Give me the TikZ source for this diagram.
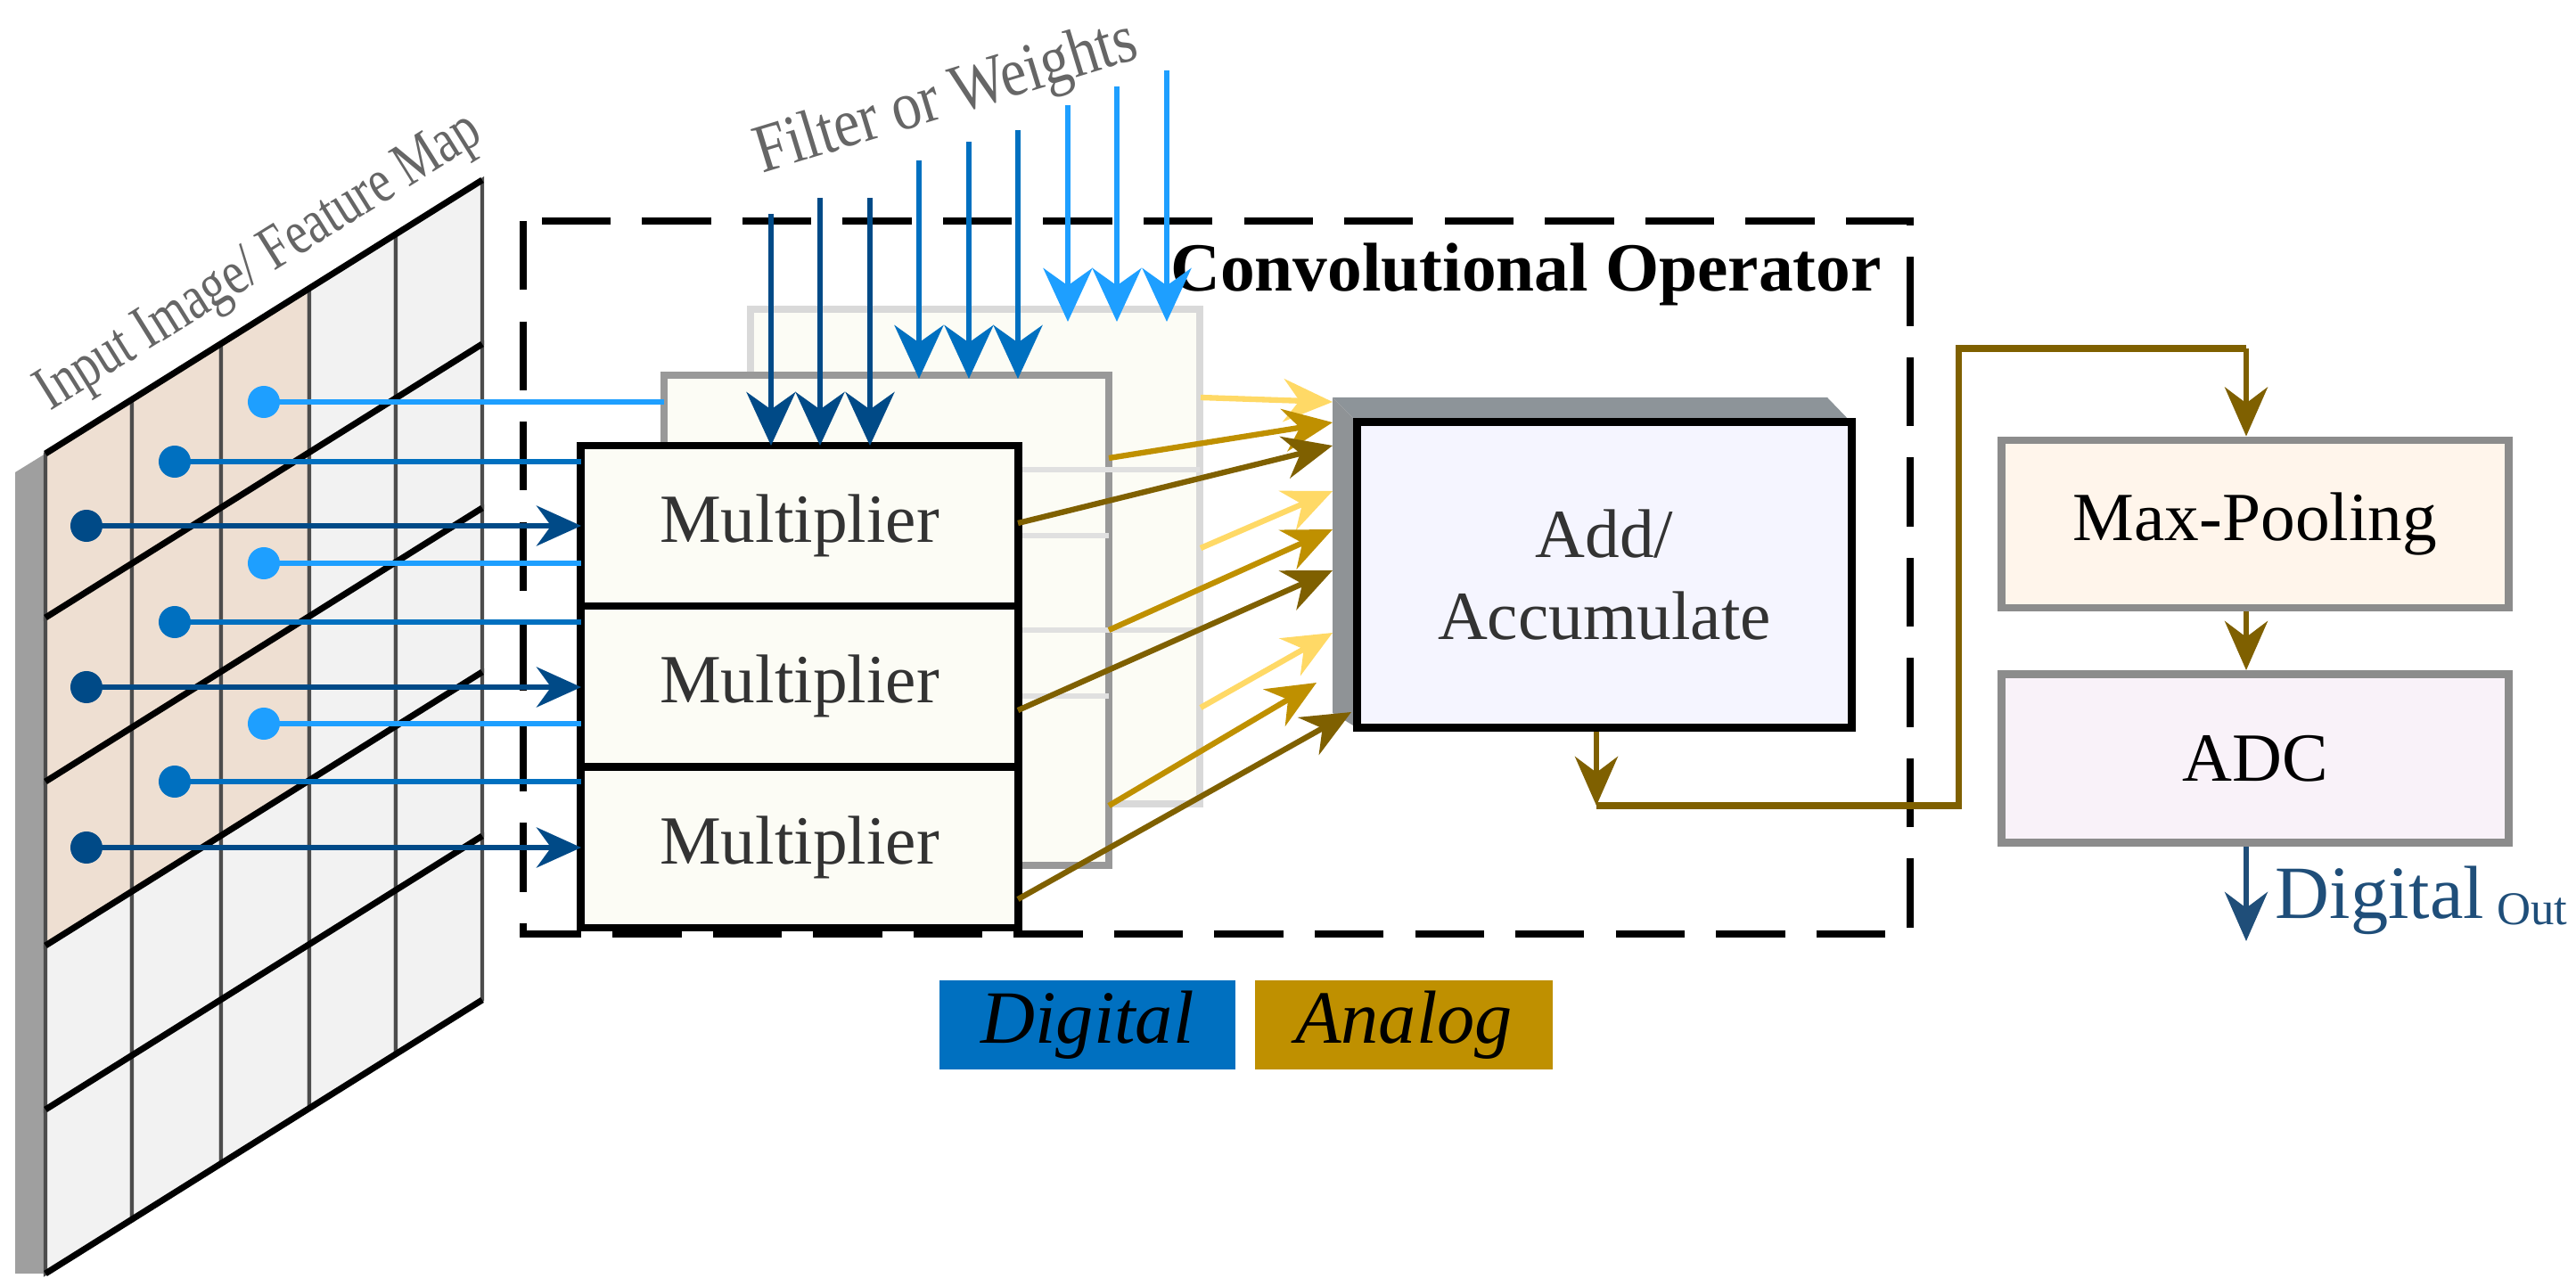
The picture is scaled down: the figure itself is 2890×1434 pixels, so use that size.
\documentclass[tikz,border=0pt]{standalone}
\usepackage{fontspec}
\setmainfont{Liberation Serif}
\usetikzlibrary{arrows.meta}
\definecolor{dA}{HTML}{004A87}
\definecolor{dB}{HTML}{0070C0}
\definecolor{dC}{HTML}{1E9FFF}
\definecolor{aA}{HTML}{FFD966}
\definecolor{aB}{HTML}{BF9000}
\definecolor{aC}{HTML}{7F6000}
\definecolor{tan}{HTML}{EEDFD2}
\definecolor{cellg}{HTML}{F2F2F2}
\definecolor{mfill}{HTML}{FCFCF5}
\definecolor{outb}{HTML}{1F4E79}
\tikzset{
  fnt/.style={font=\fontsize{22}{26}\selectfont},
  dig/.style={line width=1.7pt,-{Stealth[length=0.5cm,width=0.45cm]}},
  filt/.style={line width=1.7pt,-{Stealth[length=0.6cm,width=0.55cm]}},
  ana/.style={line width=1.8pt,-{Stealth[length=0.55cm,width=0.48cm]}},
  dot/.style={circle,inner sep=0pt,minimum size=0.36cm},
  mult/.style={draw=black,line width=2.5pt,fill=mfill,fnt,text=black!80},
}
\begin{document}
\begin{tikzpicture}[x=0.01cm,y=-0.01cm]
\useasboundingbox (0,0) rectangle (2890,1434);
% grid
\fill[gray!75] (17,530) -- (51,509) -- (51,1429) -- (17,1429) -- cycle;
\def\xs{{51,148,248,347,444,541}}
\foreach \i in {0,...,4}{
  \foreach \j in {0,...,4}{
    \pgfmathsetmacro{\xa}{\xs[\i]}
    \pgfmathsetmacro{\xb}{\xs[\i+1]}
    \pgfmathsetmacro{\ya}{509-0.627*(\xa-51)+184*\j}
    \pgfmathsetmacro{\yb}{509-0.627*(\xb-51)+184*\j}
    \pgfmathtruncatemacro{\sh}{(\i<3)&&(\j<3)}
    \ifnum\sh=1 \def\cc{tan}\else\def\cc{cellg}\fi
    \filldraw[fill=\cc,draw=black!70,line width=1.2pt] (\xa,\ya) -- (\xb,\yb) -- (\xb,\yb+184) -- (\xa,\ya+184) -- cycle;
  }
}
\foreach \j in {0,...,5}{
  \draw[line width=2pt] (51,509+184*\j) -- (541,202+184*\j);
}
\node[rotate=32,text=black!60,font=\fontsize{20}{24}\selectfont,xscale=0.78] (inlabel) at (292,296) {Input Image/ Feature Map};
% dashed box
\draw[line width=2.2pt,dash pattern=on 22pt off 10pt] (587,248) rectangle (2143,1048);
\node[font=\bfseries\fontsize{22}{26}\selectfont] (conv) at (1712,308) {Convolutional Operator};
% back layers
\draw[draw=black!15,line width=2.5pt,fill=mfill] (842,347) rectangle (1346,902);
\draw[draw=black!40,line width=2.5pt,fill=mfill] (745,421) rectangle (1244,971);
\draw[black!12,line width=1.5pt] (745,601) -- (1244,601) (745,781) -- (1244,781) (842,527)--(1346,527) (842,707)--(1346,707);
\node[mult,minimum width=4.9cm,minimum height=1.8cm] (m1) at (897,590) {Multiplier};
\node[mult,minimum width=4.9cm,minimum height=1.8cm] (m2) at (897,770) {Multiplier};
\node[mult,minimum width=4.9cm,minimum height=1.8cm] (m3) at (897,951) {Multiplier};
% dots & digital lines
\foreach \r/\ya/\yb/\yc in {1/590/518/451,2/771/698/632,3/951/877/812}{
  \node[dot,fill=dA] (pa\r) at (97,\ya) {};
  \node[dot,fill=dB] (pb\r) at (196,\yb) {};
  \node[dot,fill=dC] (pc\r) at (296,\yc) {};
  \coordinate (ea\r) at (652,\ya);
  \coordinate (eb\r) at (652,\yb);
  \draw[dig,dA] (pa\r.center) -- (ea\r);
  \draw[line width=1.7pt,dB] (pb\r.center) -- (eb\r);
}
\coordinate (ec1) at (745,451);
\coordinate (ec2) at (652,632);
\coordinate (ec3) at (652,812);
\foreach \r in {1,2,3}{\draw[line width=1.7pt,dC] (pc\r.center) -- (ec\r);}
% filter arrows
\node[rotate=17,text=black!60,font=\fontsize{22}{26}\selectfont,xscale=0.85] (flabel) at (1062,112) {Filter or Weights};
\foreach \x/\y in {865/240,920/222,976/222}{
  \coordinate (fa) at (\x,\y); \coordinate (fb) at (\x,500);
  \draw[filt,dA] (fa) -- (fb);}
\foreach \x/\y in {1031/180,1087/159,1142/146}{
  \coordinate (fa) at (\x,\y); \coordinate (fb) at (\x,425);
  \draw[filt,dB] (fa) -- (fb);}
\foreach \x/\y in {1198/118,1253/97,1309/79}{
  \coordinate (fa) at (\x,\y); \coordinate (fb) at (\x,361);
  \draw[filt,dC] (fa) -- (fb);}
% adder
\fill[gray!55!cyan!20!gray] (1495,446) -- (2050,446) -- (2077,474) -- (1523,474) -- cycle;
\fill[gray!80!cyan!30!gray] (1495,446) -- (1523,474) -- (1523,817) -- (1495,800) -- cycle;
\node[draw=black,line width=2.5pt,fill=blue!4,minimum width=5.54cm,minimum height=3.43cm,fnt,text=black!80,align=center] (add) at (1800,645) {Add/\\Accumulate};
% analog arrows
\foreach \c/\xa/\ya/\xb/\yb in {aA/1347/446/1495/451, aA/1347/615/1495/551, aA/1347/794/1495/710,
  aB/1244/514/1495/474, aB/1244/707/1495/594, aB/1244/904/1477/766,
  aC/1142/587/1495/500, aC/1142/797/1495/640, aC/1142/1009/1516/799}{
  \coordinate (sa) at (\xa,\ya); \coordinate (sb) at (\xb,\yb);
  \draw[ana,\c] (sa) -- (sb);}
% right side
\node[draw=black!45,line width=2.5pt,fill=orange!8,minimum width=5.69cm,minimum height=1.88cm,fnt] (mp) at (2530,588) {Max-Pooling};
\node[draw=black!45,line width=2.5pt,fill=violet!5,minimum width=5.69cm,minimum height=1.89cm,fnt] (adc) at (2530,851) {ADC};
\coordinate (c1) at (1791,904);
\coordinate (c2) at (2197,904);
\coordinate (c3) at (2197,391);
\coordinate (c4) at (2520,391);
\draw[line width=2pt,aC] (c1) -- (c2) -- (c3) -- (c4);
\draw[ana,aC] (c4) -- (c4 |- mp.north);
\draw[ana,aC] (add.south -| c1) -- (c1);
\draw[ana,aC] (mp.south -| c4) -- (adc.north -| c4);
\coordinate (dout) at (2520,1056);
\draw[ana,outb] (adc.south -| c4) -- (dout);
\node[text=outb,anchor=west,font=\fontsize{24}{28}\selectfont,inner sep=0pt] (dl) at (2552,1010) {Digital\,{\fontsize{15}{18}\selectfont\raisebox{-0.3ex}{Out}}};
% legend
\node[fill=dB,minimum width=3.32cm,minimum height=0.96cm,font=\itshape\fontsize{24}{28}\selectfont] (lg1) at (1220,1150) {Digital};
\node[fill=aB,minimum width=3.34cm,minimum height=0.96cm,font=\itshape\fontsize{24}{28}\selectfont] (lg2) at (1575,1150) {Analog};
\end{tikzpicture}
\end{document}
